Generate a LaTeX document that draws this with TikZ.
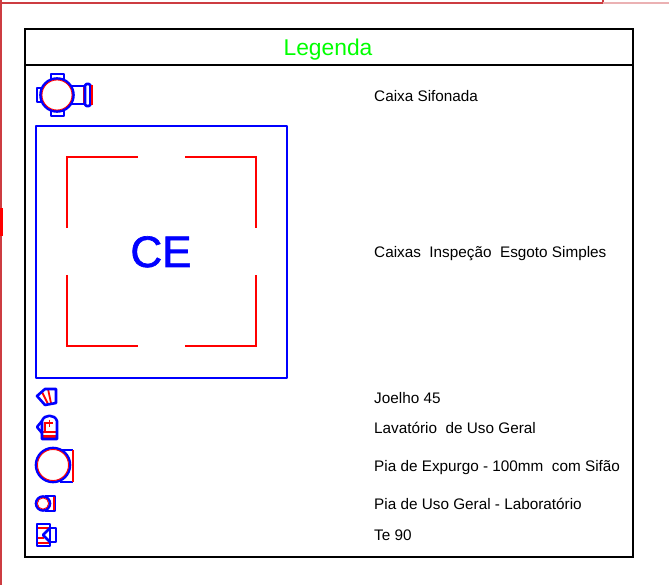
\documentclass[tikz,border=0pt]{standalone}
\usepackage{fontspec}
\setmainfont{Liberation Sans}
\usepackage{xcolor}
\definecolor{azul}{RGB}{0,0,255}
\definecolor{verm}{RGB}{255,0,0}
\definecolor{verde}{RGB}{0,255,0}
\definecolor{margem}{RGB}{205,60,65}

\begin{document}
\begin{tikzpicture}[x=1pt, y=-1pt,
    frame/.style={draw=black, line width=2.2pt},
    azl/.style={draw=azul, line width=2.6pt, line join=round},
    vrm/.style={draw=verm, line width=2.1pt},
    entry/.style={anchor=west, text=black, inner sep=0pt, text height=11pt, text depth=0pt, font=\fontsize{15.3}{17}\selectfont}]
  \useasboundingbox (0, 0) rectangle (669, 585);

  % page border around the legend
  \draw[draw=margem, line width=1.8pt] (0, 3) -- (603, 3) -- (603, 0);
  \draw[draw=margem!40, line width=1.8pt] (603, 3) -- (669, 3);
  \draw[draw=margem, line width=1.5pt] (1, 0) -- (1, 585);
  \draw[draw=verm, line width=3pt] (1, 208) -- (1, 236);

  % frame
  \draw[frame] (25, 29) rectangle (633, 557);
  \draw[frame] (25, 65) -- (633, 65);
  \node[text=verde, text height=16pt, text depth=0pt, inner sep=0pt, font=\fontsize{22.8}{24}\selectfont] (title) at (328, 48) {Legenda};

  % caixa sifonada
  \draw[azl] (51, 80) -- (51, 74) -- (64, 74) -- (64, 80);
  \draw[azl] (51, 110) -- (51, 116) -- (64, 116) -- (64, 110);
  \draw[azl] (42, 88) -- (37, 88) -- (37, 102) -- (42, 102);
  \draw[azl] (71, 86) -- (85, 86);
  \draw[azl] (71, 104) -- (85, 104);
  \fill[verm] (82.5, 87) rectangle (85.5, 103);
  \draw[azl, rounded corners=1.5pt] (85, 84) rectangle (90.5, 106);
  \draw[vrm, line width=1.6pt] (91.8, 85) -- (91.8, 105);
  \draw[azl] (57, 95) circle (16.5);
  \draw[vrm, line width=.8pt] (57, 95) circle (15);
  \node[entry] (sifonada) at (374, 96) {Caixa Sifonada};

  % caixa de inspecao
  \draw[azl, line width=2.4pt] (36, 126) rectangle (287, 378);
  \draw[vrm] (67, 228) -- (67, 157) -- (138, 157);
  \draw[vrm] (185, 157) -- (256, 157) -- (256, 228);
  \draw[vrm] (67, 275) -- (67, 346) -- (138, 346);
  \draw[vrm] (185, 346) -- (256, 346) -- (256, 275);
  \node[text=azul, font=\fontsize{44}{46}\selectfont, inner sep=0pt, text height=32pt, text depth=0pt] (ce) at (161, 251) {\addfontfeature{FakeBold=1.5}CE};
  \node[entry] (inspecao) at (374, 252) {Caixas\ \ Inspeção\ \ Esgoto Simples};

  % joelho 45
  \draw[vrm, line width=1.8pt] (42, 392) -- (48, 404);
  \draw[vrm, line width=1.8pt] (48, 389) -- (51, 403);
  \draw[azl] (37, 396) -- (45, 389) -- (56, 389) -- (56, 403) -- (45, 405) -- cycle;
  \node[entry] (joelho) at (374, 398) {Joelho 45};

  % lavatorio
  \draw[vrm, line width=1.6pt] (45, 422) -- (45, 431);
  \draw[vrm, line width=1.8pt] (43, 432) -- (56, 432);
  \draw[vrm, line width=2.2pt] (43, 436.5) -- (56, 436.5);
  \draw[vrm, line width=1.6pt] (46, 423) -- (53, 423);
  \draw[vrm, line width=1.6pt] (49.5, 419.5) -- (49.5, 426.5);
  \draw[azl] (42, 421) -- (37, 427) -- (42, 433);
  \draw[azl] (42, 439) -- (42, 421) .. controls (44, 414) and (55, 414) .. (57, 421) -- (57, 439) -- cycle;
  \node[entry] (lavatorio) at (374, 428) {Lavatório\ \ de Uso Geral};

  % pia de expurgo
  \draw[azl] (60, 450) -- (73, 450);
  \draw[azl] (60, 482) -- (73, 482);
  \draw[vrm, line width=2.2pt] (73, 450) -- (73, 482);
  \draw[azl] (53, 465) circle (17);
  \draw[vrm, line width=.9pt] (53, 465) circle (15.5);
  \node[entry] (expurgo) at (374, 466) {Pia de Expurgo - 100mm\ \ com Sifão};

  % pia de uso geral
  \draw[azl] (45, 496) -- (55, 496) -- (55, 511) -- (45, 511);
  \draw[vrm, line width=1.8pt] (54, 497) -- (54, 510);
  \draw[azl] (43, 503.5) circle (7);
  \draw[vrm, line width=.8pt] (43, 503.5) circle (5.6);
  \node[entry] (laboratorio) at (374, 504) {Pia de Uso Geral - Laboratório};

  % te 90
  \draw[vrm, line width=1.8pt] (37, 528) -- (49, 528);
  \draw[vrm, line width=1.8pt] (37, 538) -- (44, 538);
  \draw[vrm, line width=1.8pt] (37, 543) -- (49, 543);
  \draw[azl] (37, 524) rectangle (50, 546);
  \draw[azl] (50, 528) -- (56, 528) -- (56, 542) -- (50, 542);
  \draw[azl] (50, 528) -- (43, 535) -- (50, 542);
  \node[entry] (te) at (374, 535) {Te 90};
\end{tikzpicture}
\end{document}
